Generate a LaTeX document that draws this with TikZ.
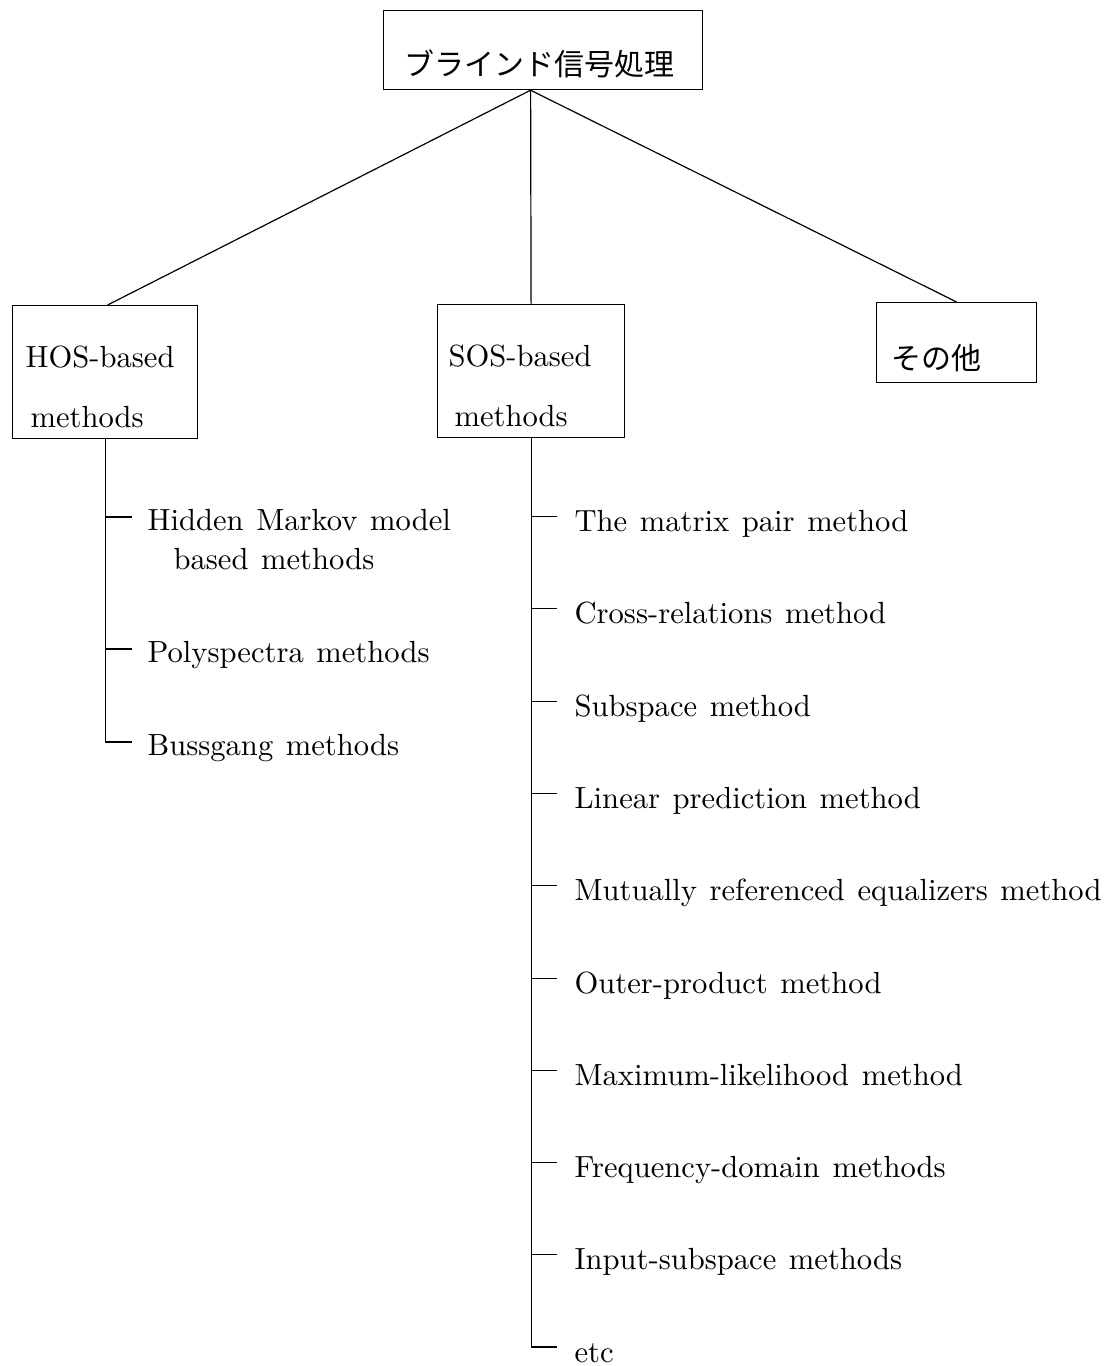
\documentclass[tikz,border=0pt]{standalone}
\usepackage{fontspec}
\usetikzlibrary{calc}
\setmainfont{lmroman10-regular.otf}
\newfontfamily\jpfont{Noto Sans CJK JP}
\newcommand\txtfont{\fontsize{15.3}{19.5}\selectfont\spaceskip=6.3pt plus 2pt minus 1pt\relax}
\begin{document}
\begin{tikzpicture}[x=0.5pt,y=-0.5pt,line width=0.6pt,
  box/.style={draw,inner sep=0pt,anchor=north west},
  txt/.style={anchor=base west,inner sep=0pt,font=\txtfont},
  jtxt/.style={anchor=base,inner sep=0pt,font=\fontsize{15}{19.5}\selectfont\jpfont}]
\useasboundingbox (0,0) rectangle (1110,1366);

% boxes
\node[box,minimum width=159.5pt,minimum height=39.5pt] (top) at (383,10) {};
\node[box,minimum width=92.5pt,minimum height=66.5pt] (hos) at (12,305) {};
\node[box,minimum width=93.5pt,minimum height=66.5pt] (sos) at (437,304) {};
\node[box,minimum width=80pt,minimum height=40pt] (oth) at (876,302) {};

% box texts
\node[jtxt] (toptxt) at (539,75) {ブラインド信号処理};
\node[jtxt] (othtxt) at (936,369) {その他};
\node[txt] (hostxt) at (25,367) {\vtop{\baselineskip=30pt\hbox{HOS-based}\hbox{\hspace{2.5pt}methods}}};
\node[txt] (sostxt) at (448,366) {\vtop{\baselineskip=30pt\hbox{SOS-based}\hbox{\hspace{3pt}methods}}};

% top connectors
\coordinate (apex) at ([xshift=-6.25pt]top.south);
\draw (apex) -- ([xshift=1.25pt]hos.north);
\draw (apex) -- (sos.north);
\draw (apex) -- (oth.north);

% HOS list
\node[txt] (hmm) at (147,530) {\vtop{\hbox{Hidden Markov model}\hbox{\hspace{13pt}based methods}}};
\node[txt] (poly) at (147,662) {Polyspectra methods};
\node[txt] (buss) at (147,755) {Bussgang methods};
\draw (hos.south) |- ($(buss.base west)+(-15,-13)$);
\foreach \n in {hmm,poly}
  \draw ($(hos.south |- \n.base west)+(0,-13)$) -- ($(\n.base west)+(-15,-13)$);

% SOS list
\foreach \n/\yy/\t in {mat/531/The matrix pair method,
  cross/623/Cross-relations method,
  sub/716/Subspace method,
  lin/808/Linear prediction method,
  mut/900/Mutually referenced equalizers method,
  out/993/Outer-product method,
  max/1085/Maximum-likelihood method,
  freq/1177/Frequency-domain methods,
  inp/1269/Input-subspace methods,
  etc/1362/etc}
  \node[txt] (\n) at (574,\yy) {\t};
\draw (sos.south) |- ($(etc.base west)+(-17,-15)$);
\foreach \n in {mat,cross,sub,lin,mut,out,max,freq,inp}
  \draw ($(sos.south |- \n.base west)+(0,-14.5)$) -- ($(\n.base west)+(-17,-14.5)$);
\end{tikzpicture}
\end{document}
